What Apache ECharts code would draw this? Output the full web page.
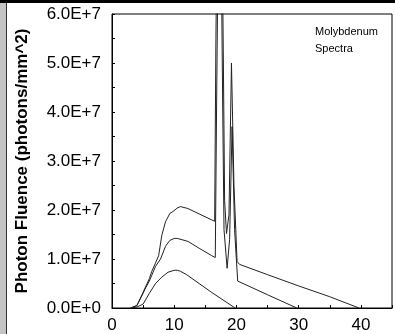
<!DOCTYPE html>
<html>
<head>
<meta charset="utf-8">
<script src="https://cdn.jsdelivr.net/npm/echarts@6/dist/echarts.min.js"></script>
<style>
  html, body { margin: 0; padding: 0; background: #fff; }
  #chart { width: 395px; height: 334px; }
</style>
</head>
<body>
<div id="chart"></div>
<script>
// Mo anode x-ray spectra: photon fluence per keV for three tube potentials
// energy in keV, fluence in photons/mm^2
const spectrum40 = [
  [3, 0], [4, 0.05e7], [5, 0.32e7], [6, 0.6e7], [6.4, 0.75e7], [7, 0.92e7], [7.5, 1.07e7],
  [8, 1.48e7], [8.6, 1.76e7], [9.3, 1.93e7], [9.8, 1.97e7], [10.5, 2.04e7], [11, 2.07e7],
  [12.2, 2.03e7], [14, 1.92e7], [16, 1.8e7], [16.5, 1.77e7], [16.7, 5.5e7], [17.0, 9.0e7],
  [17.6, 9.0e7], [17.9, 5.0e7], [18.1, 2.2e7], [18.4, 1.52e7], [18.8, 1.9e7], [19.2, 5.0e7],
  [19.6, 2.5e7], [20.1, 0.95e7], [20.5, 0.89e7], [25, 0.68e7], [30, 0.45e7], [35, 0.23e7], [39.7, 0]
];
const spectrum30 = [
  [3, 0], [4, 0.05e7], [5, 0.3e7], [5.4, 0.41e7], [6, 0.55e7], [6.4, 0.67e7], [7, 0.85e7],
  [7.8, 1.0e7], [8.6, 1.26e7], [9.3, 1.38e7], [10, 1.42e7], [10.5, 1.42e7], [12.2, 1.36e7],
  [14, 1.22e7], [16, 1.07e7], [16.6, 1.03e7], [16.8, 4.0e7], [17.1, 8.0e7], [17.5, 8.0e7],
  [17.8, 4.0e7], [18.0, 1.6e7], [18.5, 0.81e7], [18.9, 1.4e7], [19.3, 3.7e7], [19.7, 1.6e7],
  [20.2, 0.55e7], [20.5, 0.51e7], [25, 0.27e7], [29.7, 0]
];
const spectrum20 = [
  [3, 0], [4, 0.02e7], [5, 0.08e7], [6, 0.3e7], [7, 0.5e7], [8, 0.63e7], [9, 0.73e7],
  [10, 0.77e7], [10.5, 0.77e7], [11, 0.75e7], [12, 0.68e7], [14, 0.5e7], [16, 0.32e7],
  [18, 0.15e7], [19.8, 0]
];
const yTickLabels = ['0.0E+0', '1.0E+7', '2.0E+7', '3.0E+7', '4.0E+7', '5.0E+7', '6.0E+7'];
const xTickLabels = ['0', '10', '20', '30', '40'];

const FONT = 'Liberation Sans, Arial, sans-serif';
const chart = echarts.init(document.getElementById('chart'), null, { renderer: 'canvas' });

function lineSeries(data) {
  return {
    type: 'line',
    data: data,
    symbol: 'none',
    lineStyle: { color: '#222', width: 1 },
    clip: true,
    animation: false
  };
}

chart.setOption({
  backgroundColor: '#fff',
  animation: false,
  grid: {
    left: 112, top: 14, bottom: 24, right: -5,
    show: true, borderColor: '#000', borderWidth: 1, backgroundColor: 'transparent'
  },
  xAxis: {
    type: 'value', min: 0, max: 45, interval: 10,
    axisLine: { lineStyle: { color: '#000', width: 1 } },
    axisTick: { show: true, inside: true, length: 3, lineStyle: { color: '#000' } },
    minorTick: { show: true, splitNumber: 2, length: 3, lineStyle: { color: '#000' } },
    splitLine: { show: false },
    axisLabel: {
      color: '#000', fontSize: 17, fontFamily: FONT, margin: 9,
      formatter: v => xTickLabels[Math.round(v / 10)] ?? ''
    }
  },
  yAxis: {
    type: 'value', min: 0, max: 6e7, interval: 1e7,
    name: 'Photon Fluence (photons/mm^2)',
    nameLocation: 'middle', nameGap: 81,
    nameTextStyle: { color: '#000', fontSize: 17, fontWeight: 'bold', fontFamily: FONT },
    axisLine: { lineStyle: { color: '#000', width: 1 } },
    axisTick: { show: true, inside: true, length: 3, lineStyle: { color: '#000' } },
    minorTick: { show: true, splitNumber: 2, length: 3, lineStyle: { color: '#000' } },
    splitLine: { show: false },
    axisLabel: {
      color: '#000', fontSize: 17, fontFamily: FONT, margin: 11,
      formatter: v => yTickLabels[Math.round(v / 1e7)] ?? ''
    }
  },
  series: [lineSeries(spectrum40), lineSeries(spectrum30), lineSeries(spectrum20)],
  graphic: [
    { type: 'rect', shape: { x: 0, y: 0, width: 6, height: 334 }, style: { fill: '#c4c4c4' }, z: 100 },
    { type: 'rect', shape: { x: 6, y: 0, width: 1, height: 334 }, style: { fill: '#333' }, z: 100 },
    { type: 'rect', shape: { x: 0, y: 0, width: 395, height: 3 }, style: { fill: '#000' }, z: 100 },
    { type: 'text', left: 315, top: 26, style: { text: 'Molybdenum', fill: '#000', fontSize: 11, fontFamily: FONT } },
    { type: 'text', left: 315, top: 43, style: { text: 'Spectra', fill: '#000', fontSize: 11, fontFamily: FONT } }
  ]
});
</script>
</body>
</html>
